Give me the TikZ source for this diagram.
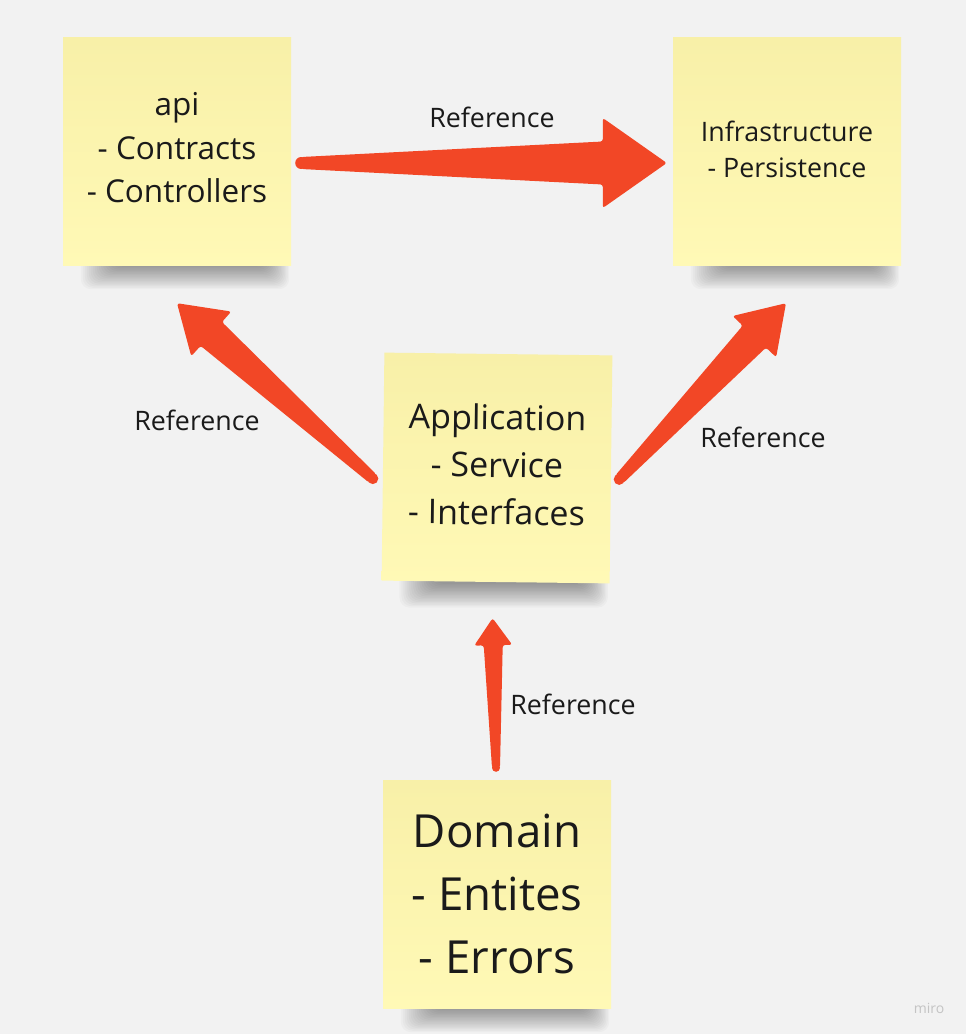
\documentclass[tikz,border=0pt]{standalone}
\usepackage{fontspec}
\setmainfont{Open Sans}
\usetikzlibrary{calc,backgrounds}
\definecolor{bg}{HTML}{F2F2F2}
\definecolor{sticky}{HTML}{FFF9B6}
\definecolor{stickytop}{HTML}{F8F0A8}
\definecolor{arrowred}{HTML}{F24726}
\definecolor{ink}{HTML}{1A1A1A}
\definecolor{wm}{HTML}{C4C4C4}

% tapered arrow: #1 tail, #2 tip, #3 tail half width, #4 shaft half width at head,
% #5 head half width, #6 head length
\newcommand\taperarrow[6]{%
  \coordinate (hb) at ($(#2)!#6!(#1)$);
  \fill[arrowred, rounded corners=2.5pt]
    ($(#1)!#3!90:(#2)$) -- ($(hb)!#4!90:(#2)$) -- ($(hb)!#5!90:(#2)$) -- (#2)
    -- ($(hb)!#5!-90:(#2)$) -- ($(hb)!#4!-90:(#2)$) -- ($(#1)!#3!-90:(#2)$) -- cycle;
  \fill[arrowred] (#1) circle[radius=#3];
}

% soft shadow under a sticky note
\newcommand\noteshadow[1]{%
  \foreach \k in {0,...,17}{
    \fill[black, opacity=0.024, rounded corners=10pt]
      ($(#1.south west)+(18+2*\k,-14)$) rectangle ($(#1.south east)+(-2-1.4*\k,24-1.4*\k)$);
  }
}

\tikzset{
  note/.style={minimum width=228pt, minimum height=228pt, inner sep=0pt,
    top color=stickytop, bottom color=sticky},
  notetext/.style={align=center, text=ink, inner sep=0pt},
  reflabel/.style={text=ink, font=\fontsize{26.8}{30}\selectfont, inner sep=0pt}
}

\begin{document}
\begin{tikzpicture}[x=1pt,y=-1pt]
\useasboundingbox (0,0) rectangle (966,1034);

\node[note] (api) at (177,151) {};
\node[note] (infra) at (787,151) {};
\node[note, rotate=-0.7] (app) at (497,468) {};
\node[note] (dom) at (497,894) {};

\begin{pgfonlayer}{background}
  \fill[bg] (0,0) rectangle (966,1034);
  \noteshadow{api}
  \noteshadow{infra}
  \noteshadow{app}
  \noteshadow{dom}
\end{pgfonlayer}

\node[notetext, font=\fontsize{31.5}{43.5}\selectfont] (apitext) at ($(api.center)+(0,-3)$)
  {api\\- Contracts\\- Controllers};
\node[notetext, font=\fontsize{26.8}{36}\selectfont] (infratext) at ($(infra.center)+(0,-2)$)
  {Infrastructure\\- Persistence};
\node[notetext, rotate=-0.7, font=\fontsize{34}{47.5}\selectfont] (apptext) at ($(app.center)+(0,-3.5)$)
  {Application\\- Service\\- Interfaces};
\node[notetext, font=\fontsize{45.6}{63}\selectfont] (domtext) at ($(dom.center)+(0,0)$)
  {Domain\\- Entites\\- Errors};

% connector end points
\coordinate (t1) at ($(api.east)+(10,12)$);
\coordinate (h1) at ($(infra.west)+(-6,12)$);
\coordinate (t2) at ($(app.west)+(-10,12)$);
\coordinate (h2) at ($(api.south)+(0,38)$);
\coordinate (t3) at ($(app.east)+(8,10)$);
\coordinate (h3) at ($(infra.south)+(-1,38)$);
\coordinate (t4) at ($(dom.north)+(-1,-12)$);
\coordinate (h4) at ($(app.south)+(-3,36)$);

\taperarrow{t1}{h1}{6pt}{21.5pt}{45pt}{64pt}
\taperarrow{t2}{h2}{5.5pt}{16pt}{30pt}{46pt}
\taperarrow{t3}{h3}{5.5pt}{16pt}{30pt}{46pt}
\taperarrow{t4}{h4}{4pt}{9.5pt}{19pt}{27pt}

\node[reflabel] (l1) at (492,117) {Reference};
\node[reflabel] (l2) at (197,420) {Reference};
\node[reflabel] (l3) at (763,437) {Reference};
\node[reflabel] (l4) at (573,704) {Reference};

\node[text=wm, font=\fontsize{14}{16}\selectfont, inner sep=0pt] (miro) at (929,1008) {miro};
\end{tikzpicture}
\end{document}
